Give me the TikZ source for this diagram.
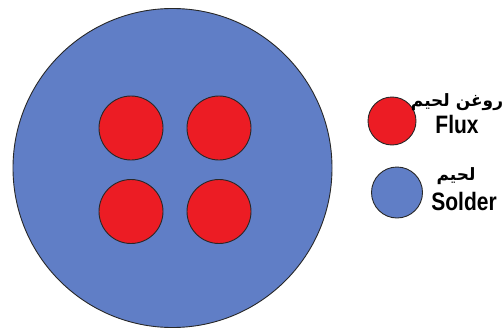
\documentclass[tikz,border=0pt]{standalone}
\usepackage{fontspec}
\setmainfont{Liberation Sans}
\newfontfamily\arabicfont[Script=Arabic]{DejaVu Sans}
\TeXXeTstate=1
\definecolor{solderblue}{RGB}{96,126,198}
\definecolor{fluxred}{RGB}{236,28,36}
\definecolor{edge}{RGB}{40,40,40}
\tikzset{
  solder/.style={circle,draw=edge,line width=0.9pt,fill=solderblue,inner sep=0pt},
  flux/.style={circle,draw=edge,line width=0.9pt,fill=fluxred,inner sep=0pt},
  lbl/.style={inner sep=0pt,font=\bfseries\fontsize{21}{21}\selectfont},
  albl/.style={inner sep=0pt,font=\arabicfont\bfseries\fontsize{17}{17}\selectfont}
}
\begin{document}
\begin{tikzpicture}[x=1pt,y=-1pt]
\useasboundingbox (0,0) rectangle (502,329);
\node[solder,minimum size=319pt] (big) at (172.5,168) {};
\node[flux,minimum size=48pt] (lf) at (392,121) {};
\node[flux,minimum size=64pt] (f1) at (131,128) {};
\node[flux,minimum size=64pt] (f2) at (219,128) {};
\node[flux,minimum size=64pt] (f3) at (131,211.5) {};
\node[flux,minimum size=64pt] (f4) at (219,211.5) {};
\node[solder,minimum size=51pt] (ls) at (397,192.5) {};
\node[albl] (ta) at (457,102) {\beginR روغن لحیم\endR};
\node[lbl] (tf) at (457,124) {\scalebox{1}[1.2]{Flux}};
\node[albl] (tb) at (456,176) {\beginR لحیم\endR};
\node[lbl] (ts) at (464,201) {\scalebox{1}[1.2]{Solder}};
\end{tikzpicture}
\end{document}
